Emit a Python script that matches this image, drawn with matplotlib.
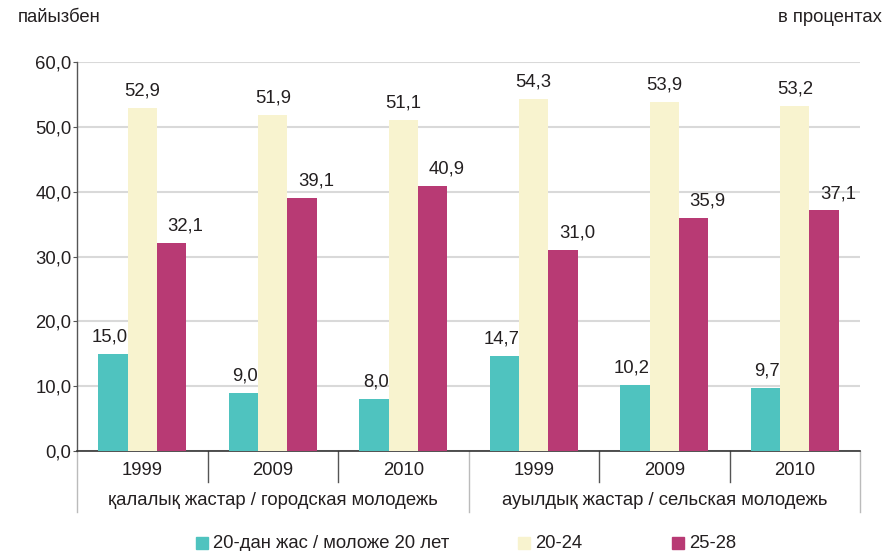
import matplotlib
matplotlib.use("Agg")
import matplotlib.pyplot as plt
from matplotlib.patches import Rectangle
import numpy as np

plt.rcParams['font.family'] = ['Liberation Sans', 'DejaVu Sans']

years = ["1999", "2009", "2010", "1999", "2009", "2010"]
groups = ["қалалық жастар / городская молодежь", "ауылдық жастар / сельская молодежь"]
series_names = ["20-дан жас / моложе 20 лет", "20-24", "25-28"]
under20 = [15.0, 9.0, 8.0, 14.7, 10.2, 9.7]
age20_24 = [52.9, 51.9, 51.1, 54.3, 53.9, 53.2]
age25_28 = [32.1, 39.1, 40.9, 31.0, 35.9, 37.1]
colors = ["#4FC3BF", "#F8F3CF", "#B83A74"]
yticks = [0, 10, 20, 30, 40, 50, 60]

def fmt(v):
    return f"{v:.1f}".replace(".", ",")

FS = 13.3
W, H = 883, 551
fig = plt.figure(figsize=(W / 100, H / 100), dpi=100)
ax = fig.add_axes([77 / W, 1 - 451 / H, (860 - 77) / W, (451 - 62) / H])

x = np.arange(len(years))
bw = 0.226
txtc = "#231F20"
# label anchoring per series: (fraction of bar width for anchor x, horizontal alignment, pixel shift)
label_anchor = [(1.0, "right", 0), (0.5, "center", 0), (1.0, "center", -1)]
for k, (vals, c) in enumerate(zip([under20, age20_24, age25_28], colors)):
    bars = ax.bar(x + (k - 1) * bw, vals, width=bw, color=c, zorder=3)
    fx, ha, dx = label_anchor[k]
    for b, v in zip(bars, vals):
        ax.annotate(fmt(v), (b.get_x() + b.get_width() * fx, v), xytext=(dx * 0.72, 6),
                    textcoords="offset points", ha=ha, va="bottom",
                    fontsize=FS, color=txtc)

ax.set_xlim(-0.5, len(years) - 0.5)
ax.set_ylim(0, 60)
ax.set_yticks(yticks)
ax.set_yticklabels([fmt(t) for t in yticks], fontsize=FS, color=txtc)
ax.yaxis.grid(True, color="#D9D9D9", lw=1.5, zorder=0)
ax.set_axisbelow(True)
for s in ["top", "right"]:
    ax.spines[s].set_visible(False)
ax.spines["left"].set_color("#555555")
ax.spines["bottom"].set_color("#333333")
ax.spines["left"].set_linewidth(1.0)
ax.spines["bottom"].set_linewidth(1.2)
ax.tick_params(axis="y", length=3, color="#555555", pad=1)
ax.tick_params(axis="x", length=0)
ax.set_xticks([])

tr = ax.get_xaxis_transform()
# year separators
for xs in [0.5, 1.5, 3.5, 4.5]:
    ax.plot([xs, xs], [0, -0.08], transform=tr, color="#555555", lw=1.0, clip_on=False)
# group separators
for xs in [-0.5, 2.5, 5.5]:
    ax.plot([xs, xs], [0, -0.157], transform=tr, color="#BBBBBB", lw=1.0, clip_on=False)

for xi, yr in zip(x, years):
    ax.text(xi, -0.049, yr, transform=tr, ha="center", va="center", fontsize=FS, color=txtc)
for gi, g in enumerate(groups):
    ax.text(gi * 3 + 1, -0.126, g, transform=tr, ha="center", va="center", fontsize=FS, color=txtc)

fig.text(18 / W, 1 - 18 / H, "пайызбен", ha="left", va="center", fontsize=FS, color=txtc)
fig.text(882 / W, 1 - 18 / H, "в процентах", ha="right", va="center", fontsize=FS, color=txtc)

# legend
leg_x = [196, 518, 672]
for lx, name, c in zip(leg_x, series_names, colors):
    fig.add_artist(Rectangle((lx / W, 1 - 549 / H), 12 / W, 12 / H, transform=fig.transFigure,
                             color=c))
    fig.text((lx + 17) / W, 1 - 543 / H, name, ha="left", va="center", fontsize=FS, color=txtc)

fig.savefig("out.png", dpi=100)
